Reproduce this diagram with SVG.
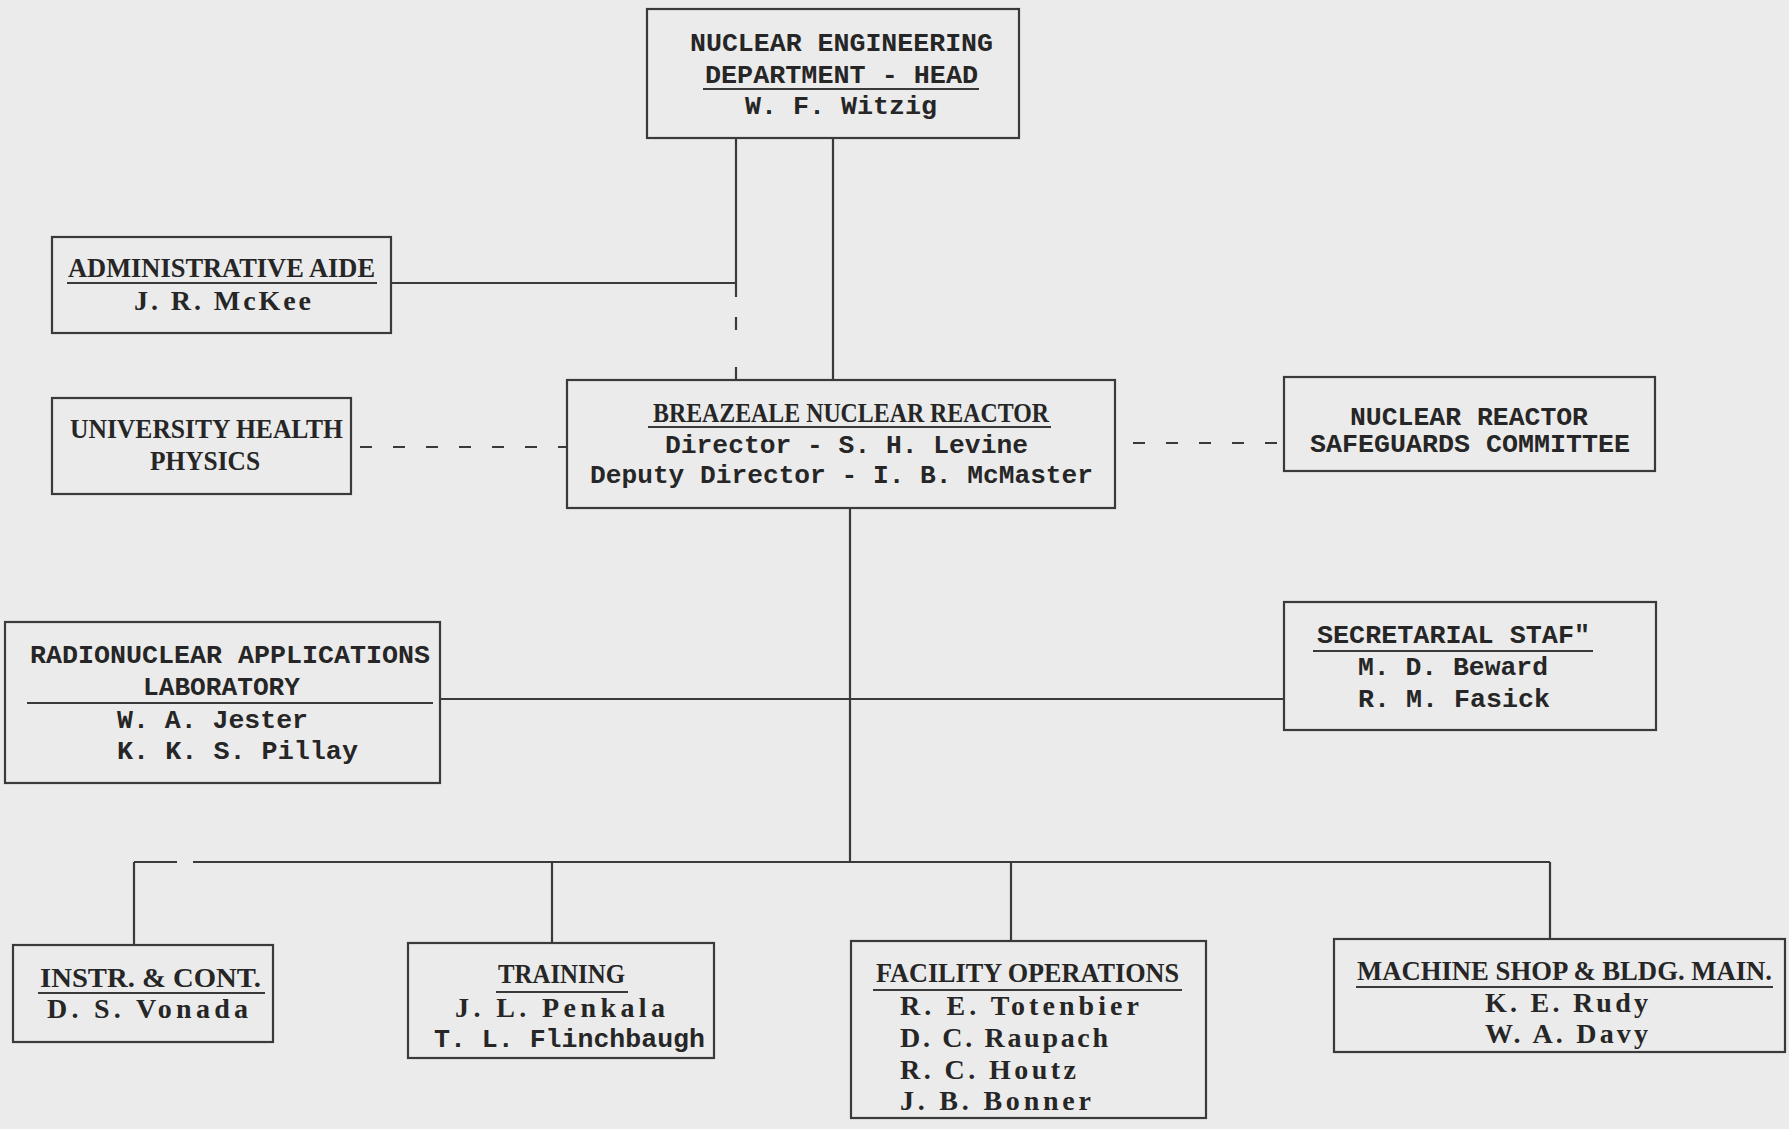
<svg xmlns="http://www.w3.org/2000/svg" width="1789" height="1129" viewBox="0 0 1789 1129">
<style>
.bg{fill:#ebebeb}
.box{fill:none;stroke:#3a3a3a;stroke-width:2.2}
.ln{stroke:#3a3a3a;stroke-width:2.2;fill:none}
.ul{stroke:#3a3a3a;stroke-width:1.8}
.dash{stroke:#3a3a3a;stroke-width:2.2;fill:none;stroke-dasharray:12 21}
.tw{font-family:"Liberation Mono","DejaVu Sans Mono",monospace;font-weight:bold;font-size:26px;fill:#262626}
.cd{font-family:"Liberation Serif","DejaVu Serif",serif;font-weight:bold;font-size:27px;fill:#262626}
.nm{font-family:"Liberation Serif","DejaVu Serif",serif;font-weight:bold;font-size:28px;fill:#262626}
</style>
<rect class="bg" x="0" y="0" width="1789" height="1129"/>

<g id="connectors">
  <line class="ln" x1="833" y1="138" x2="833" y2="380"/>
  <line class="ln" x1="736" y1="138" x2="736" y2="297"/>
  <line class="ln" x1="736" y1="317" x2="736" y2="330"/>
  <line class="ln" x1="736" y1="367" x2="736" y2="380"/>
  <line class="ln" x1="391" y1="283" x2="736" y2="283"/>
  <line class="dash" x1="360" y1="447" x2="567" y2="447"/>
  <line class="dash" x1="1133" y1="443" x2="1284" y2="443"/>
  <line class="ln" x1="440" y1="699" x2="1284" y2="699"/>
  <line class="ln" x1="850" y1="508" x2="850" y2="862"/>
  <line class="ln" x1="134" y1="862" x2="177" y2="862"/>
  <line class="ln" x1="193" y1="862" x2="1550" y2="862"/>
  <line class="ln" x1="134" y1="862" x2="134" y2="945"/>
  <line class="ln" x1="552" y1="862" x2="552" y2="943"/>
  <line class="ln" x1="1011" y1="862" x2="1011" y2="941"/>
  <line class="ln" x1="1550" y1="862" x2="1550" y2="939"/>
</g>

<g id="dept-head">
  <rect class="box" x="647" y="9" width="372" height="129"/>
  <text class="tw" x="690" y="51" textLength="303" lengthAdjust="spacingAndGlyphs">NUCLEAR ENGINEERING</text>
  <text class="tw" x="705" y="83" textLength="273" lengthAdjust="spacingAndGlyphs">DEPARTMENT - HEAD</text>
  <line class="ul" x1="703" y1="89" x2="979" y2="89"/>
  <text class="tw" x="745" y="114" textLength="192" lengthAdjust="spacingAndGlyphs">W. F. Witzig</text>
</g>

<g id="admin-aide">
  <rect class="box" x="52" y="237" width="339" height="96"/>
  <text class="cd" x="68" y="277" textLength="307" lengthAdjust="spacingAndGlyphs">ADMINISTRATIVE AIDE</text>
  <line class="ul" x1="67" y1="283" x2="377" y2="283"/>
  <text class="nm" x="134" y="310" textLength="177" lengthAdjust="spacing">J. R. McKee</text>
</g>

<g id="health-physics">
  <rect class="box" x="52" y="398" width="299" height="96"/>
  <text class="cd" x="70" y="438" textLength="273" lengthAdjust="spacingAndGlyphs">UNIVERSITY HEALTH</text>
  <text class="cd" x="150" y="470" textLength="110" lengthAdjust="spacingAndGlyphs">PHYSICS</text>
</g>

<g id="breazeale">
  <rect class="box" x="567" y="380" width="548" height="128"/>
  <text class="cd" x="653" y="422" textLength="396" lengthAdjust="spacingAndGlyphs">BREAZEALE NUCLEAR REACTOR</text>
  <line class="ul" x1="648" y1="427" x2="1051" y2="427"/>
  <text class="tw" x="665" y="453" textLength="363" lengthAdjust="spacingAndGlyphs">Director - S. H. Levine</text>
  <text class="tw" x="590" y="483" textLength="503" lengthAdjust="spacingAndGlyphs">Deputy Director - I. B. McMaster</text>
</g>

<g id="safeguards">
  <rect class="box" x="1284" y="377" width="371" height="94"/>
  <text class="tw" x="1350" y="425" textLength="238" lengthAdjust="spacingAndGlyphs">NUCLEAR REACTOR</text>
  <text class="tw" x="1310" y="452" textLength="320" lengthAdjust="spacingAndGlyphs">SAFEGUARDS COMMITTEE</text>
</g>

<g id="radionuclear">
  <rect class="box" x="5" y="622" width="435" height="161"/>
  <text class="tw" x="30" y="663" textLength="400" lengthAdjust="spacingAndGlyphs">RADIONUCLEAR APPLICATIONS</text>
  <text class="tw" x="143" y="695" textLength="157" lengthAdjust="spacingAndGlyphs">LABORATORY</text>
  <line class="ul" x1="27" y1="703" x2="433" y2="703"/>
  <text class="tw" x="117" y="728" textLength="191" lengthAdjust="spacingAndGlyphs">W. A. Jester</text>
  <text class="tw" x="117" y="759" textLength="241" lengthAdjust="spacingAndGlyphs">K. K. S. Pillay</text>
</g>

<g id="secretarial">
  <rect class="box" x="1284" y="602" width="372" height="128"/>
  <text class="tw" x="1317" y="643" textLength="273" lengthAdjust="spacingAndGlyphs">SECRETARIAL STAF"</text>
  <line class="ul" x1="1313" y1="651" x2="1593" y2="651"/>
  <text class="tw" x="1358" y="675" textLength="190" lengthAdjust="spacingAndGlyphs">M. D. Beward</text>
  <text class="tw" x="1358" y="707" textLength="192" lengthAdjust="spacingAndGlyphs">R. M. Fasick</text>
</g>

<g id="instr-cont">
  <rect class="box" x="13" y="945" width="260" height="97"/>
  <text class="cd" x="40" y="987" textLength="221" lengthAdjust="spacingAndGlyphs">INSTR. &amp; CONT.</text>
  <line class="ul" x1="38" y1="993" x2="265" y2="993"/>
  <text class="nm" x="47" y="1018" textLength="201" lengthAdjust="spacing">D. S. Vonada</text>
</g>

<g id="training">
  <rect class="box" x="408" y="943" width="306" height="115"/>
  <text class="cd" x="498" y="983" textLength="127" lengthAdjust="spacingAndGlyphs">TRAINING</text>
  <line class="ul" x1="496" y1="992" x2="628" y2="992"/>
  <text class="nm" x="455" y="1017" textLength="210" lengthAdjust="spacing">J. L. Penkala</text>
  <text class="tw" x="434" y="1047" textLength="271" lengthAdjust="spacingAndGlyphs">T. L. Flinchbaugh</text>
</g>

<g id="facility-ops">
  <rect class="box" x="851" y="941" width="355" height="177"/>
  <text class="cd" x="876" y="982" textLength="303" lengthAdjust="spacingAndGlyphs">FACILITY OPERATIONS</text>
  <line class="ul" x1="873" y1="990" x2="1182" y2="990"/>
  <text class="nm" x="900" y="1015" textLength="239" lengthAdjust="spacing">R. E. Totenbier</text>
  <text class="nm" x="900" y="1047" textLength="208" lengthAdjust="spacing">D. C. Raupach</text>
  <text class="nm" x="900" y="1079" textLength="176" lengthAdjust="spacing">R. C. Houtz</text>
  <text class="nm" x="900" y="1110" textLength="191" lengthAdjust="spacing">J. B. Bonner</text>
</g>

<g id="machine-shop">
  <rect class="box" x="1334" y="939" width="451" height="113"/>
  <text class="cd" x="1357" y="980" textLength="415" lengthAdjust="spacingAndGlyphs">MACHINE SHOP &amp; BLDG. MAIN.</text>
  <line class="ul" x1="1356" y1="987" x2="1773" y2="987"/>
  <text class="nm" x="1485" y="1012" textLength="163" lengthAdjust="spacing">K. E. Rudy</text>
  <text class="nm" x="1485" y="1043" textLength="163" lengthAdjust="spacing">W. A. Davy</text>
</g>
</svg>
